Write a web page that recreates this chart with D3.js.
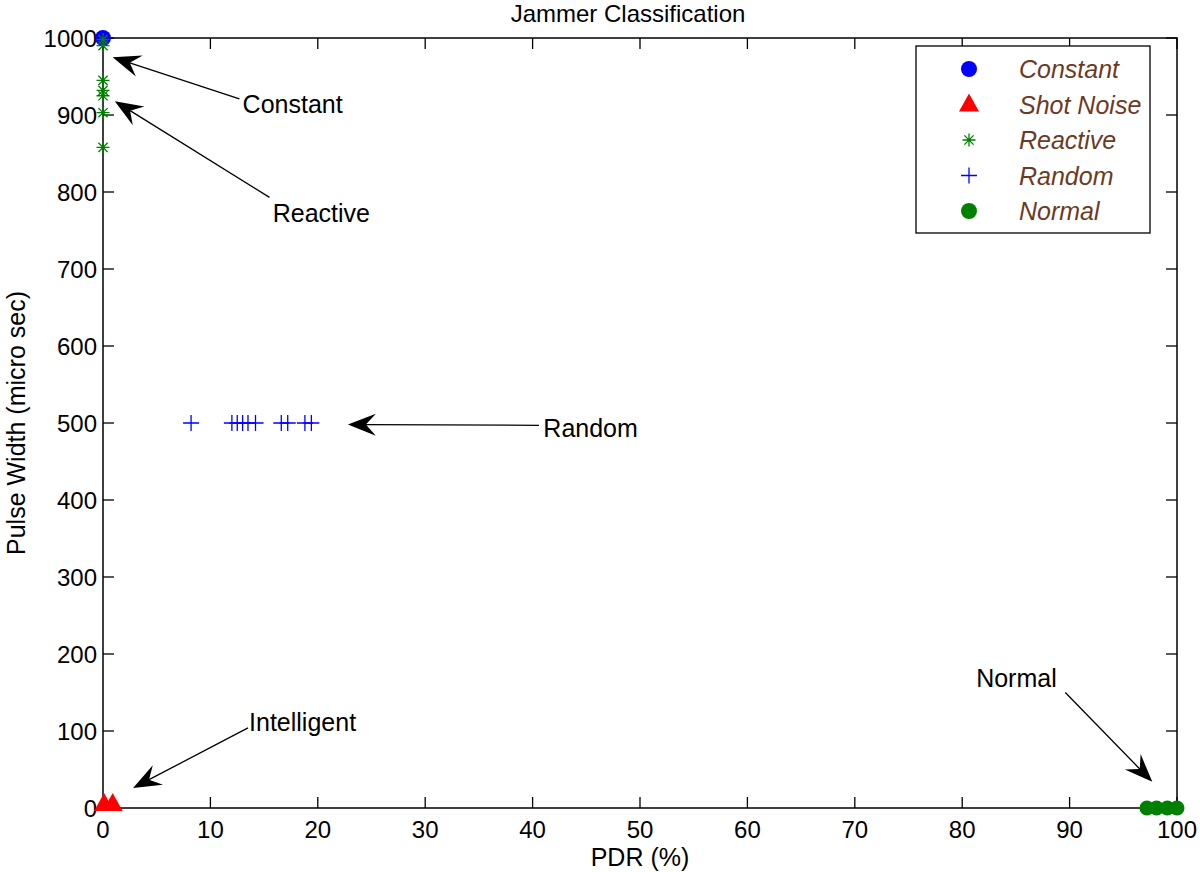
<!DOCTYPE html>
<html><head><meta charset="utf-8">
<script src="https://cdn.jsdelivr.net/npm/d3@7"></script>
<style>body{margin:0;background:#fff}svg{display:block}text{font-family:"Liberation Sans",Arial,sans-serif}</style>
</head><body><svg id="c" width="1200" height="872"></svg>
<script>
// Data
const xTicks = [0,10,20,30,40,50,60,70,80,90,100];
const yTicks = [0,100,200,300,400,500,600,700,800,900,1000];
const constantPDR = [0], constantPW = [1000];
const shotPDR = [0.1, 0.9], shotPW = [0, 0];
const reactivePDR = [0,0,0,0,0,0,0], reactivePW = [998, 990, 945, 932, 925, 903, 858];
const randomPDR = [8.2, 12.0, 12.5, 13.0, 13.5, 14.2, 16.6, 17.2, 18.8, 19.4];
const randomPW = [500,500,500,500,500,500,500,500,500,500];
const normalPDR = [97.2, 98.1, 99.1, 100], normalPW = [0,0,0,0];
const legendLabels = ["Constant","Shot Noise","Reactive","Random","Normal"];
// annotations: label, text anchor point (data), arrow start (data), arrow tip (data)
const annLabels = ["Constant","Reactive","Random","Intelligent","Normal"];
const annTextX = [13, 15.8, 41, 13.6, 81.3], annTextY = [903, 761, 482, 100, 157];
const annFromX = [12.7, 15.5, 40.6, 13.5, 89.6], annFromY = [921, 793, 497, 104, 150];
const annToX = [0.9, 1.1, 22.8, 2.8, 97.7], annToY = [975, 918, 498, 26, 34];

const svg = d3.select("#c");
const x = d3.scaleLinear().domain([0,100]).range([103,1177]);
const y = d3.scaleLinear().domain([0,1000]).range([808,38]);
const FS = 24, FA = 25;

// axes box
const g = svg.append("g");
g.append("rect").attr("x",x(0)).attr("y",y(1000)).attr("width",x(100)-x(0)).attr("height",y(0)-y(1000))
 .attr("fill","none").attr("stroke","#000").attr("stroke-width",1.5);
const tl = 11;
xTicks.forEach(t=>{
  g.append("line").attr("x1",x(t)).attr("x2",x(t)).attr("y1",y(0)).attr("y2",y(0)-tl).attr("stroke","#000").attr("stroke-width",1.3);
  g.append("line").attr("x1",x(t)).attr("x2",x(t)).attr("y1",y(1000)).attr("y2",y(1000)+tl).attr("stroke","#000").attr("stroke-width",1.3);
  g.append("text").attr("x",x(t)).attr("y",y(0)+30).attr("text-anchor","middle").attr("font-size",FS).text(t);
});
yTicks.forEach(t=>{
  g.append("line").attr("x1",x(0)).attr("x2",x(0)+tl).attr("y1",y(t)).attr("y2",y(t)).attr("stroke","#000").attr("stroke-width",1.3);
  g.append("line").attr("x1",x(100)).attr("x2",x(100)-tl).attr("y1",y(t)).attr("y2",y(t)).attr("stroke","#000").attr("stroke-width",1.3);
  g.append("text").attr("x",x(0)-6).attr("y",y(t)+9).attr("text-anchor","end").attr("font-size",FS).text(t);
});
svg.append("text").attr("x",628).attr("y",22).attr("text-anchor","middle").attr("font-size",FS).text("Jammer Classification");
svg.append("text").attr("x",(x(0)+x(100))/2).attr("y",866).attr("text-anchor","middle").attr("font-size",FA).text("PDR (%)");
svg.append("text").attr("transform",`translate(25,${(y(0)+y(1000))/2}) rotate(-90)`).attr("text-anchor","middle").attr("font-size",FA).text("Pulse Width (micro sec)");

// marker drawers
const BLUE="#0000ff", RED="#ff0000", GREEN="#008000";
function circle(sel,cx,cy,r,col){ sel.append("circle").attr("cx",cx).attr("cy",cy).attr("r",r).attr("fill",col); }
function tri(sel,cx,cy,col){ sel.append("path").attr("d",`M${cx},${cy-15}L${cx+10},${cy+3}L${cx-10},${cy+3}Z`).attr("fill",col); }
function star(sel,cx,cy,col){ const s=6.5, d=4.6;
  sel.append("path").attr("d",`M${cx-s},${cy}H${cx+s}M${cx},${cy-s}V${cy+s}M${cx-d},${cy-d}L${cx+d},${cy+d}M${cx-d},${cy+d}L${cx+d},${cy-d}`)
   .attr("stroke",col).attr("stroke-width",1.3).attr("fill","none"); }
function plus(sel,cx,cy,col){ const s=8;
  sel.append("path").attr("d",`M${cx-s},${cy}H${cx+s}M${cx},${cy-s}V${cy+s}`).attr("stroke",col).attr("stroke-width",1.3).attr("fill","none"); }

const m = svg.append("g");
constantPDR.forEach((v,i)=>circle(m,x(v),y(constantPW[i]),8,BLUE));
shotPDR.forEach((v,i)=>tri(m,x(v),y(shotPW[i]),RED));
reactivePDR.forEach((v,i)=>star(m,x(v),y(reactivePW[i]),GREEN));
randomPDR.forEach((v,i)=>plus(m,x(v),y(randomPW[i]),BLUE));
normalPDR.forEach((v,i)=>circle(m,x(v),y(normalPW[i]),7.5,GREEN));

// annotations
const a = svg.append("g");
annLabels.forEach((lab,i)=>{
  const x1=x(annFromX[i]), y1=y(annFromY[i]), x2=x(annToX[i]), y2=y(annToY[i]);
  const ang = Math.atan2(y2-y1,x2-x1);
  const L=28, W=11, N=18;
  const ca=Math.cos(ang), sa=Math.sin(ang);
  const pt=(bx,by)=>[x2+bx*ca-by*sa, y2+bx*sa+by*ca];
  const nb = pt(-N,0);
  a.append("line").attr("x1",x1).attr("y1",y1).attr("x2",nb[0]).attr("y2",nb[1]).attr("stroke","#000").attr("stroke-width",1.3);
  const p1=pt(-L,-W), p2=pt(-N,0), p3=pt(-L,W);
  a.append("path").attr("d",`M${x2},${y2}L${p1}L${p2}L${p3}Z`).attr("fill","#000");
  a.append("text").attr("x",x(annTextX[i])).attr("y",y(annTextY[i])).attr("font-size",FA).text(lab);
});

// legend
const lg = svg.append("g");
lg.append("rect").attr("x",916).attr("y",46).attr("width",234).attr("height",187).attr("fill","#fff").attr("stroke","#000").attr("stroke-width",1.3);
const rowY = d3.scaleLinear().domain([0,4]).range([69,211]);
legendLabels.forEach((lab,i)=>{
  const cy=rowY(i), cx=969;
  if(i===0) circle(lg,cx,cy,8,BLUE);
  if(i===1) tri(lg,cx,cy+4,RED);
  if(i===2) star(lg,cx,cy,GREEN);
  if(i===3) plus(lg,cx,cy,BLUE);
  if(i===4) circle(lg,cx,cy,8,GREEN);
  lg.append("text").attr("x",1019).attr("y",cy+9).attr("font-size",FA).attr("font-style","italic").attr("fill","#6b3a24").text(lab);
});
</script></body></html>
